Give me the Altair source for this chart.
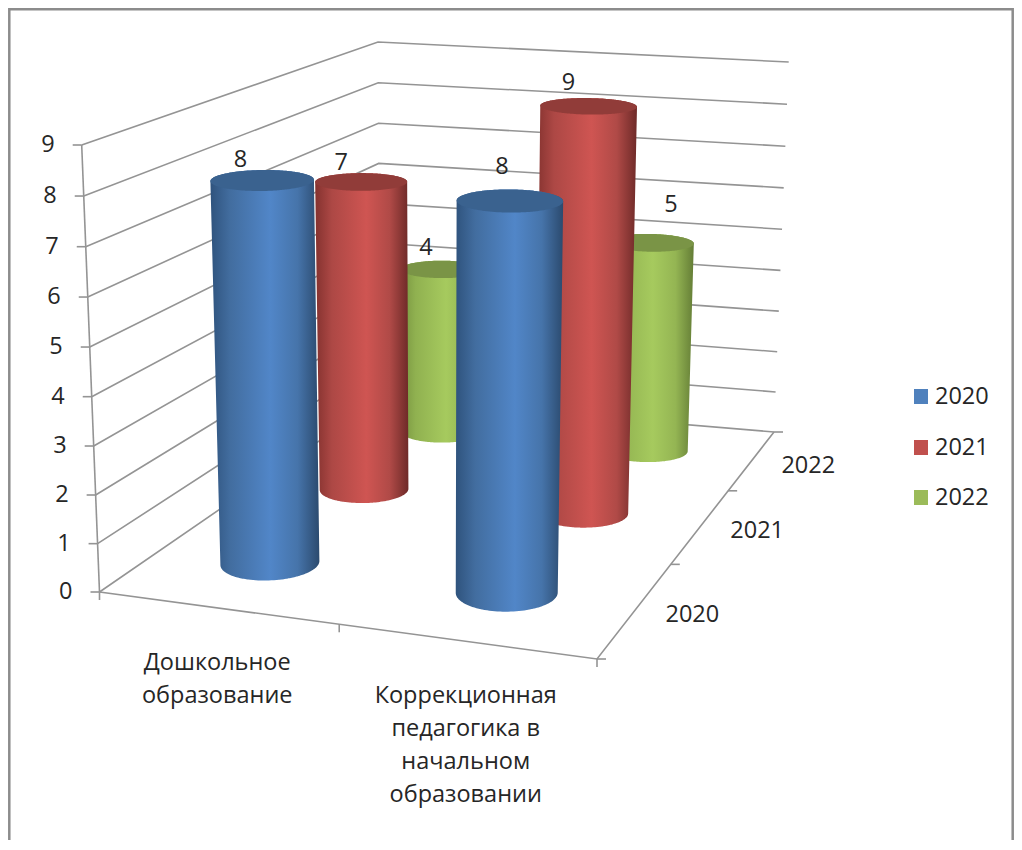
import numpy as np
import pandas as pd
import altair as alt

# ---------- chart values ----------
categories = ["Дошкольное\nобразование", "Коррекционная\nпедагогика в\nначальном\nобразовании"]
series = ["2020", "2021", "2022"]
values_2020 = [8, 8]
values_2021 = [7, 9]
values_2022 = [4, 5]
value_ticks = list(range(0, 10))
values_by_series = [values_2020, values_2021, values_2022]

# ---------- 3D box seen in perspective (image pixels) ----------
FLOOR = dict(fl=(99.5, 592), fr=(597, 659), bl=(380, 399), br=(774, 432))
TOP = dict(fl=(81.7, 145), fr=(606, 189), bl=(378, 42), br=(788.7, 62))
A_U, A_V, A_H = 0.93, 1.43, 0.97
R_U, R_V = 0.098, 0.066
ROW_SHIFT = {"2020": -0.009, "2021": -0.009, "2022": 0.0}
FONT = "Open Sans"
FS = 23.5
INK = "#262626"
GRID = "#949494"


def warp(t, a):
    return a * t / (1 + (a - 1) * t)


def project(u, v, h):
    su, sv, sh = warp(u, A_U), warp(v, A_V), warp(h / 9.0, A_H)
    def plane(c, i):
        front = c["fl"][i] + (c["fr"][i] - c["fl"][i]) * su
        back = c["bl"][i] + (c["br"][i] - c["bl"][i]) * su
        return front + (back - front) * sv
    return (plane(FLOOR, 0) + (plane(TOP, 0) - plane(FLOOR, 0)) * sh,
            plane(FLOOR, 1) + (plane(TOP, 1) - plane(FLOOR, 1)) * sh)


def circle(u, v, h):
    th = np.linspace(0, 2 * np.pi, 121)[:-1]
    x, y = project(u + R_U * np.cos(th), v + R_V * np.sin(th), h)
    return np.column_stack([x, y])


def band(points):
    """Upper and lower outline of a convex set of points, as x / y / y2 rows."""
    pts = sorted(set(map(tuple, points)))
    def chain(seq):
        out = []
        for p in seq:
            while len(out) >= 2 and (out[-1][0]-out[-2][0])*(p[1]-out[-2][1]) - (out[-1][1]-out[-2][1])*(p[0]-out[-2][0]) <= 0:
                out.pop()
            out.append(p)
        return out
    low = np.array(chain(pts))
    high = np.array(chain(pts[::-1]))[::-1]
    xs = np.unique(np.concatenate([low[:, 0], high[:, 0]]))
    return pd.DataFrame({"x": xs,
                         "y": np.interp(xs, low[:, 0], low[:, 1]),
                         "y2": np.interp(xs, high[:, 0], high[:, 1])})


X = lambda f="x": alt.X(f"{f}:Q", scale=alt.Scale(domain=[8, 1014]), axis=None)
Y = lambda f="y": alt.Y(f"{f}:Q", scale=alt.Scale(domain=[840, 8]), axis=None)
Y2 = alt.Y2("y2:Q")

# ---------- walls, floor, ticks ----------
rows = []
def seg(*pts):
    gid = len(rows)
    for k, (px, py) in enumerate(pts):
        rows.append(dict(g=f"g{gid}", k=k, x=float(px), y=float(py)))

for h in value_ticks:
    seg(project(0, 0, h), project(0, 1, h), project(1, 1, h))
    ax, ay = project(0, 0, h)
    seg((ax - 9, ay), (ax, ay))
seg(project(0, 0, 0), project(0, 0, 9))
seg(project(0, 0, 0), project(1, 0, 0), project(1, 1, 0))
n_cat, n_ser = len(categories), len(series)
for i in range(n_cat + 1):
    ax, ay = project(i / n_cat, 0, 0)
    seg((ax, ay), (ax, ay + 8))
for j in range(n_ser + 1):
    ax, ay = project(1, j / n_ser, 0)
    seg((ax, ay), (ax + 9, ay))
lines = pd.DataFrame(rows)

layers = [
    alt.Chart(lines).mark_line(color=GRID, strokeWidth=1.6).encode(
        x=X(), y=Y(), detail="g:N", order="k:Q")
]

# ---------- frame ----------
frame = pd.DataFrame(dict(x=[9.3, 9.3, 1012.7, 1012.7], y=[840, 9.3, 9.3, 840], k=[0, 1, 2, 3]))
layers.append(alt.Chart(frame).mark_line(color="#8c8c8c", strokeWidth=2.5).encode(
    x=X(), y=Y(), order="k:Q"))

# ---------- cylinders, back row first ----------
body_stops = {
    "2020": [(0, "#2f537d"), (0.18, "#426d9f"), (0.55, "#5186c8"), (0.8, "#4674aa"), (1, "#2b4a6e")],
    "2021": [(0, "#84322f"), (0.18, "#ad4845"), (0.55, "#cf5552"), (0.8, "#b04a47"), (1, "#6e2a28")],
    "2022": [(0, "#76923f"), (0.18, "#90b150"), (0.55, "#a6ca5e"), (0.8, "#94b553"), (1, "#647d36")],
}
cap_color = {"2020": "#3a628f", "2021": "#913c39", "2022": "#7a9446"}
swatch = {"2020": "#4f81bd", "2021": "#c0504d", "2022": "#9bbb59"}

label_shift = {(0, 0): (-22, -20), (0, 1): (-20, -19), (0, 2): (-16, -21),
               (1, 0): (-8, -34), (1, 1): (-20, -23), (1, 2): (21, -38)}
labels = []
for j in reversed(range(n_ser)):
    name = series[j]
    for i in range(n_cat):
        val = values_by_series[j][i]
        u, v = (i + 0.5) / n_cat + ROW_SHIFT[name], (j + 0.5) / n_ser
        base, top = circle(u, v, 0), circle(u, v, val)
        grad = alt.LinearGradient(gradient="linear", x1=0, x2=1, y1=0, y2=0,
                                  stops=[alt.GradientStop(offset=o, color=c) for o, c in body_stops[name]])
        layers.append(alt.Chart(band(np.vstack([base, top]))).mark_area(color=grad, orient="vertical").encode(
            x=X(), y=Y(), y2=Y2))
        layers.append(alt.Chart(band(top)).mark_area(color=cap_color[name], orient="vertical").encode(
            x=X(), y=Y(), y2=Y2))
        cx, cy = project(u, v, val)
        dx, dy = label_shift[(i, j)]
        labels.append(dict(x=cx + dx, y=cy + dy, t=str(val)))

text = lambda df, **kw: alt.Chart(df).mark_text(font=FONT, fontSize=FS, color=INK, baseline="middle", **kw).encode(
    x=X(), y=Y(), text="t:N")

layers.append(text(pd.DataFrame(labels), align="center"))

# ---------- axis labels ----------
vlab = []
for h in value_ticks:
    ax, ay = project(0, 0, h)
    vlab.append(dict(x=ax - 27, y=ay, t=str(h)))
layers.append(text(pd.DataFrame(vlab), align="right"))

clab = []
for i, cat in enumerate(categories):
    ax, ay = project((i + 0.5) / n_cat, 0, 0)
    for n, part in enumerate(cat.split("\n")):
        clab.append(dict(x=ax, y=ay + 55 + n * 33, t=part))
layers.append(text(pd.DataFrame(clab), align="center"))

slab = []
for j, name in enumerate(series):
    ax, ay = project(1, (j + 0.5) / n_ser, 0)
    slab.append(dict(x=ax + 56, y=ay + 6, t=name))
layers.append(text(pd.DataFrame(slab), align="center"))

# ---------- legend ----------
leg = pd.DataFrame(dict(name=series, x=[914] * 3, x2=[928] * 3, y=[389, 440, 490], y2=[404, 455, 505]))
layers.append(alt.Chart(leg).mark_rect().encode(
    x=X(), x2=alt.X2("x2:Q"), y=Y(), y2=Y2,
    color=alt.Color("name:N", scale=alt.Scale(domain=series, range=[swatch[s] for s in series]), legend=None)))
legt = pd.DataFrame(dict(x=[935] * 3, y=[397, 448, 498], t=series))
layers.append(text(legt, align="left"))

chart = alt.layer(*layers).properties(width=1006, height=832, padding=0, autosize="none",
                                      background="white").configure_view(stroke=None)
chart.save("out.html", embed_options={"renderer": "svg", "actions": False})
